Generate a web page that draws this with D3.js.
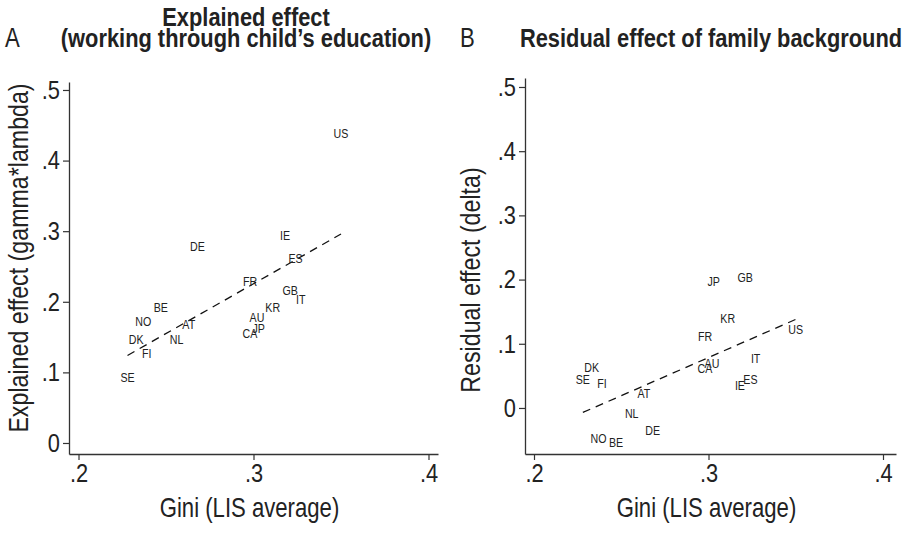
<!DOCTYPE html>
<html>
<head>
<meta charset="utf-8">
<script src="https://cdn.jsdelivr.net/npm/d3@7"></script>
<style>
  body { margin: 0; background: #fff; }
  text { font-family: "Liberation Sans", Arial, sans-serif; fill: #222; }
</style>
</head>
<body>
<svg id="chart" width="907" height="533"></svg>
<script>
// country codes, same order in every array
const countries = ["US", "IE", "DE", "ES", "FR", "GB", "IT", "KR", "BE", "AU", "NO", "AT", "JP", "CA", "DK", "NL", "FI", "SE"];
const gini = [0.350, 0.318, 0.268, 0.324, 0.298, 0.321, 0.327, 0.311, 0.247, 0.302, 0.237, 0.263, 0.303, 0.298, 0.233, 0.256, 0.239, 0.228];
const explained = [0.439, 0.294, 0.278, 0.262, 0.229, 0.216, 0.204, 0.192, 0.192, 0.178, 0.172, 0.168, 0.163, 0.155, 0.147, 0.147, 0.127, 0.093];
const residual = [0.123, 0.036, -0.035, 0.044, 0.112, 0.204, 0.078, 0.140, -0.054, 0.069, -0.047, 0.023, 0.198, 0.061, 0.064, -0.008, 0.038, 0.045];

// linear fit end points
const fitExplained = [[0.228, 0.124], [0.350, 0.296]];
const fitResidual = [[0.228, -0.007], [0.350, 0.138]];

const xTicks = [0.2, 0.3, 0.4];
const yTicks = [0, 0.1, 0.2, 0.3, 0.4, 0.5];

const svg = d3.select("#chart");

const fmt = (d) => (d === 0 ? "0" : d3.format(".1f")(d).replace(/^0/, "").replace(/^-0/, "-"));

function drawPanel(p) {
  const x = d3.scaleLinear().domain(p.xDomain).range(p.xRange);
  const y = d3.scaleLinear().domain(p.yDomain).range(p.yRange);
  const g = svg.append("g");

  const xAxis = g.append("g")
    .attr("transform", `translate(0,${p.yRange[0]})`)
    .call(d3.axisBottom(x).tickValues(xTicks).tickFormat(fmt).tickSize(6).tickSizeOuter(0));
  const yAxis = g.append("g")
    .attr("transform", `translate(${p.xRange[0]},0)`)
    .call(d3.axisLeft(y).tickValues(yTicks).tickFormat(fmt).tickSize(6).tickSizeOuter(0).tickPadding(3));

  [xAxis, yAxis].forEach((a) => {
    a.select(".domain").attr("stroke", "#333").attr("stroke-width", 1.3);
    a.selectAll(".tick line").attr("stroke", "#333").attr("stroke-width", 1.2);
    a.selectAll(".tick text").attr("font-size", 26).attr("fill", "#222")
      .style("font-family", '"Liberation Sans", Arial, sans-serif')
      .attr("data-sx", 0.84);
  });
  xAxis.selectAll(".tick text").attr("y", 28).attr("dy", null);

  // fitted line
  g.append("path")
    .datum(p.fit)
    .attr("fill", "none")
    .attr("stroke", "#111")
    .attr("stroke-width", 1.3)
    .attr("stroke-dasharray", "8,6")
    .attr("d", d3.line().x((d) => x(d[0])).y((d) => y(d[1])));

  // country labels as markers
  g.selectAll("text.lab")
    .data(countries)
    .enter()
    .append("text")
    .attr("class", "lab")
    .attr("x", (d, i) => x(gini[i]))
    .attr("y", (d, i) => y(p.values[i]))
    .attr("dy", "0.36em")
    .attr("text-anchor", "middle")
    .attr("font-size", 13)
    .attr("fill", "#333")
    .attr("data-sx", 0.82)
    .text((d) => d);

  g.append("text")
    .attr("x", (p.xRange[0] + p.xRange[1]) / 2 - 4)
    .attr("y", 517)
    .attr("text-anchor", "middle")
    .attr("font-size", 27)
    .attr("data-sx", 0.82)
    .text("Gini (LIS average)");

  g.append("text")
    .attr("transform", `translate(${p.yTitleX},${p.yTitleY}) rotate(-90)`)
    .attr("text-anchor", "middle")
    .attr("font-size", 27)
    .attr("data-sx", p.yTitleSx)
    .text(p.yTitle);

  g.append("text")
    .attr("x", p.letterX)
    .attr("y", 47)
    .attr("font-size", 27)
    .attr("data-sx", 0.82)
    .text(p.letter);

  p.title.forEach((t, i) => {
    g.append("text")
      .attr("x", p.titleX)
      .attr("y", 47 - (p.title.length - 1 - i) * 21)
      .attr("text-anchor", "middle")
      .attr("font-size", 26)
      .attr("font-weight", "bold")
      .attr("data-sx", 0.84)
      .text(t);
  });
}

drawPanel({
  xDomain: [0.19457, 0.40543], xRange: [69, 438],
  yDomain: [-0.0156, 0.5113], yRange: [454, 82],
  values: explained, fit: fitExplained,
  yTitle: "Explained effect (gamma*lambda)", yTitleX: 28, yTitleY: 258, yTitleSx: 0.86,
  letter: "A", letterX: 5,
  title: ["Explained effect", "(working through child\u2019s education)"], titleX: 246
});

drawPanel({
  xDomain: [0.19484, 0.40745], xRange: [525, 896],
  yDomain: [-0.0717, 0.514], yRange: [454, 78],
  values: residual, fit: fitResidual,
  yTitle: "Residual effect (delta)", yTitleX: 480, yTitleY: 280, yTitleSx: 0.86,
  letter: "B", letterX: 460,
  title: ["Residual effect of family background"], titleX: 711
});

// the chart uses a condensed face: squeeze every text along its own direction
svg.selectAll("text").each(function () {
  const t = d3.select(this);
  const sx = +t.attr("data-sx") || 1;
  const tx = +t.attr("x") || 0;
  const ty = +t.attr("y") || 0;
  const base = t.attr("transform") || "";
  t.attr("transform", `${base} translate(${tx},${ty}) scale(${sx},1)`).attr("x", 0).attr("y", 0);
});
</script>
</body>
</html>
